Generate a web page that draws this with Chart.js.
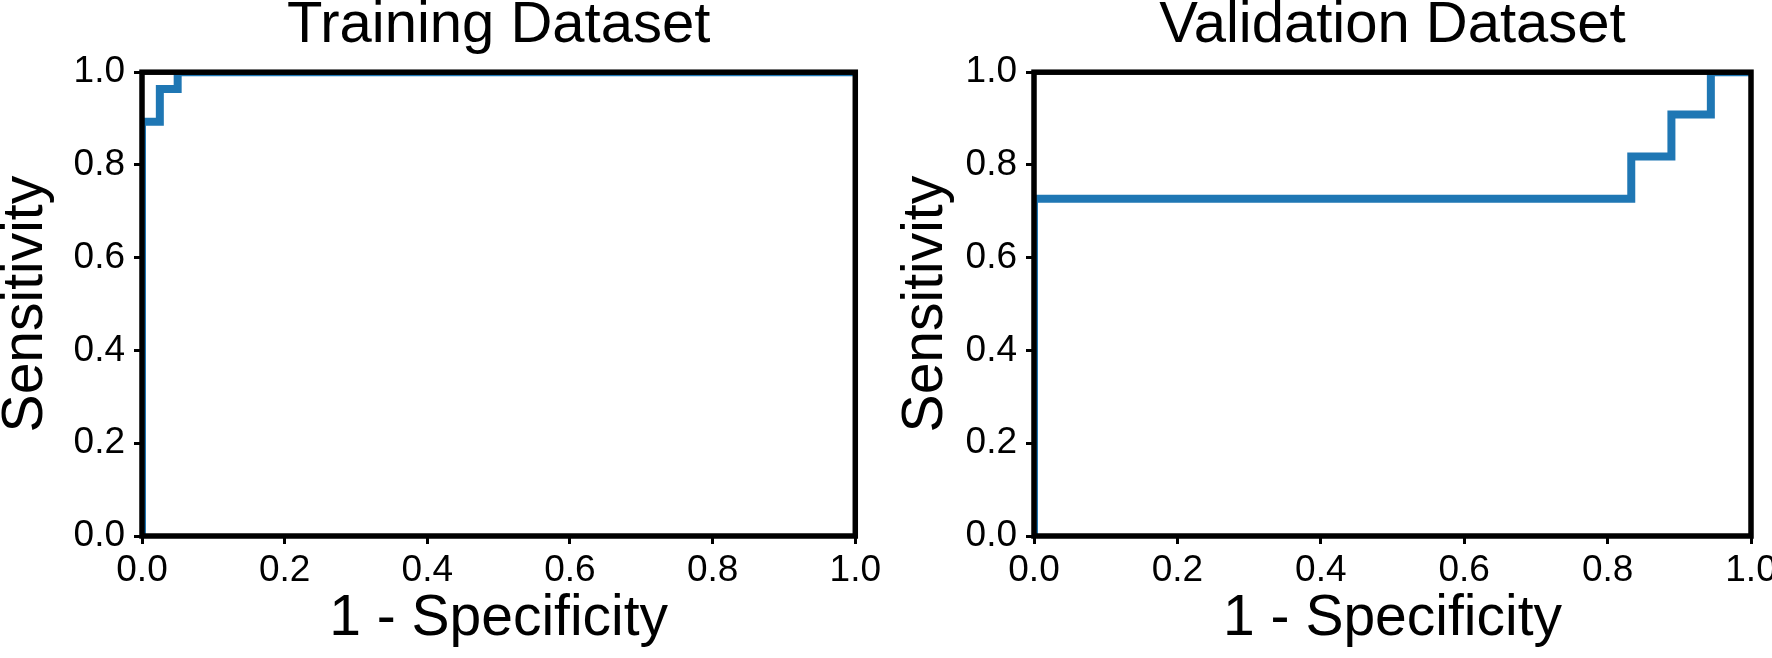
<!DOCTYPE html>
<html>
<head>
<meta charset="utf-8">
<script src="https://cdn.jsdelivr.net/npm/chart.js@4.4.1/dist/chart.umd.min.js"></script>
<style>
html, body { margin: 0; padding: 0; background: #fff; overflow: hidden; }
#wrap { position: relative; width: 1772px; height: 658px; overflow: hidden; }
.box { position: absolute; top: 0; height: 658px; }
#leftBox { left: 0; width: 886px; }
#rightBox { left: 886px; width: 914px; }
</style>
</head>
<body>
<div id="wrap">
  <div class="box" id="leftBox"><canvas id="trainChart"></canvas></div>
  <div class="box" id="rightBox"><canvas id="validChart"></canvas></div>
</div>
<script>
const tickValues = [0, 0.2, 0.4, 0.6, 0.8, 1.0];

// ROC points (1 - specificity, sensitivity)
const trainFpr = [0, 0, 0.025, 0.025, 0.05, 0.05, 1];
const trainTpr = [0, 0.893, 0.893, 0.964, 0.964, 1, 1];
const validFpr = [0, 0, 0.833, 0.833, 0.889, 0.889, 0.944, 0.944, 1];
const validTpr = [0, 0.727, 0.727, 0.818, 0.818, 0.909, 0.909, 1, 1];

const FONT = '"Liberation Sans", Arial, Helvetica, sans-serif';

// black box round the plot, drawn over the curve like matplotlib spines
const frame = {
    id: 'frame',
    afterDatasetsDraw(chart) {
        const a = chart.chartArea;
        const ctx = chart.ctx;
        ctx.save();
        ctx.strokeStyle = '#000';
        ctx.lineWidth = 5.5;
        ctx.strokeRect(a.left, a.top, a.right - a.left, a.bottom - a.top);
        ctx.restore();
    }
};

function axisCfg(titleText, titlePad, isY, size) {
    return {
        type: 'linear',
        min: 0,
        max: 1,
        afterBuildTicks: s => { s.ticks = tickValues.map(v => ({ value: v })); },
        afterFit: s => { if (isY) s.width = size; else s.height = size; },
        grid: { drawOnChartArea: false, drawTicks: true, tickLength: 8, tickWidth: 3, tickColor: '#000' },
        border: { display: false },
        ticks: {
            color: '#000',
            font: { family: FONT, size: 37 },
            padding: isY ? 9 : 5,
            maxRotation: 0,
            autoSkip: false,
            callback: v => Number(v).toFixed(1)
        },
        title: {
            display: true,
            text: titleText,
            color: '#000',
            font: { family: FONT, size: 57, lineHeight: isY ? 0.9 : 1 },
            padding: titlePad
        }
    };
}

function buildRoc(id, titleText, fpr, tpr, yWidth, yTitlePad, padRight) {
    const ctx = document.getElementById(id).getContext('2d');
    return new Chart(ctx, {
        type: 'line',
        data: {
            datasets: [{
                data: fpr.map((x, i) => ({ x: x, y: tpr[i] })),
                borderColor: '#1f77b4',
                borderWidth: 8,
                borderJoinStyle: 'miter',
                pointRadius: 0,
                tension: 0,
                fill: false
            }]
        },
        options: {
            responsive: true,
            maintainAspectRatio: false,
            animation: false,
            layout: { padding: { left: 0, right: padRight, top: 0, bottom: 0 } },
            scales: {
                x: axisCfg('1 - Specificity', { top: 0, bottom: 10 }, false, 122),
                y: axisCfg('Sensitivity', { top: yTitlePad, bottom: 0 }, true, yWidth)
            },
            plugins: {
                legend: { display: false },
                tooltip: { enabled: false },
                title: {
                    display: true,
                    text: titleText,
                    color: '#000',
                    fullSize: false,
                    font: { family: FONT, size: 58, weight: 'normal', lineHeight: 0.9 },
                    padding: { top: 0, bottom: 20 }
                }
            }
        },
        plugins: [frame]
    });
}

buildRoc('trainChart', 'Training Dataset', trainFpr, trainTpr, 142, 1, 29);
buildRoc('validChart', 'Validation Dataset', validFpr, validTpr, 148, 15, 49);
</script>
</body>
</html>
